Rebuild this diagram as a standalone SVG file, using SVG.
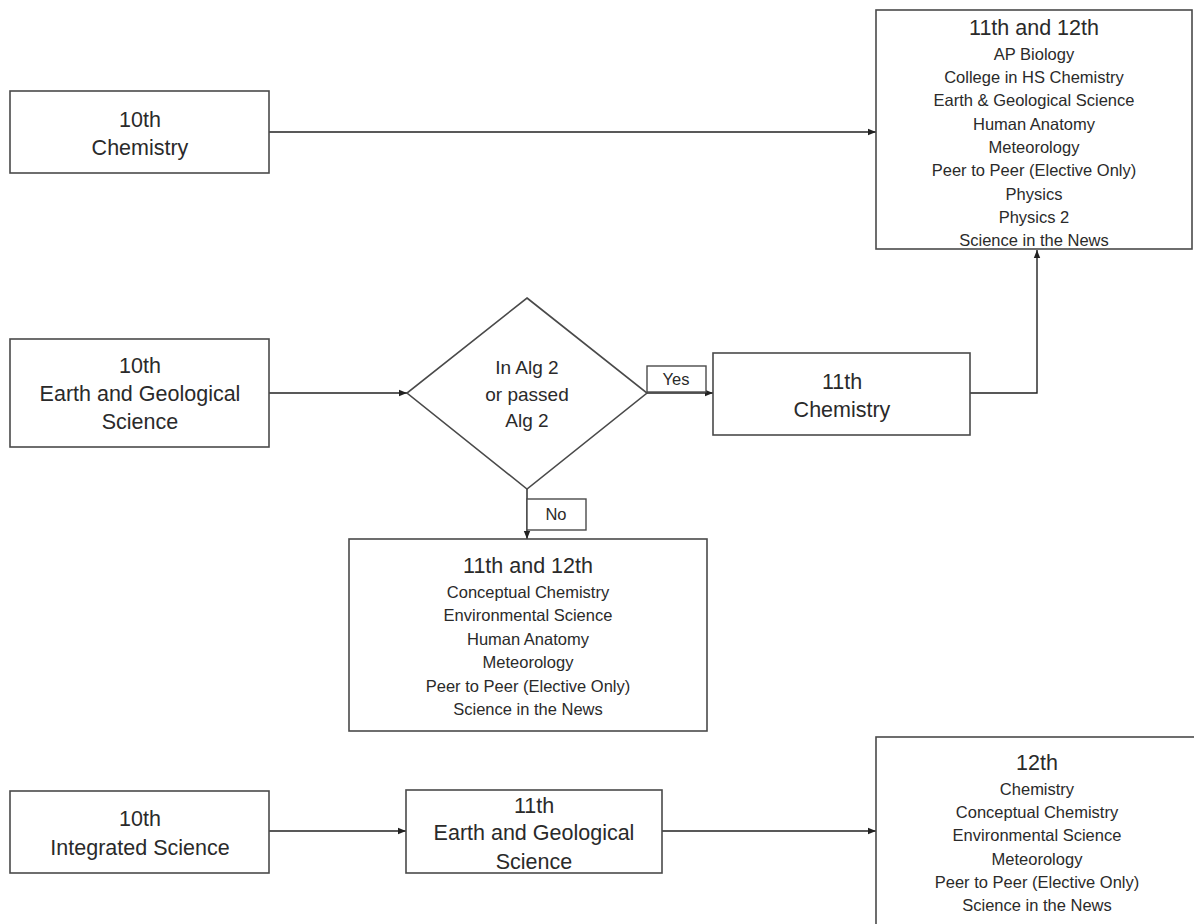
<svg xmlns="http://www.w3.org/2000/svg" width="1194" height="924" viewBox="0 0 1194 924">
<style>
.box{fill:#fff;stroke:#4a4a4a;stroke-width:1.6}
.lbl{fill:#fff;stroke:#4a4a4a;stroke-width:1.4}
.h{font-family:"Liberation Sans",Arial,sans-serif;font-size:21.5px;fill:#2a2a2a;text-anchor:middle}
.b{font-family:"Liberation Sans",Arial,sans-serif;font-size:16.5px;fill:#2a2a2a;text-anchor:middle}
.c{fill:none;stroke:#222;stroke-width:1.4}
</style>
<defs>
<marker id="arr" markerUnits="userSpaceOnUse" markerWidth="9" markerHeight="8" refX="8" refY="4" orient="auto">
<path d="M0,0.8 L8,4 L0,7.2 Z" fill="#222"/>
</marker>
</defs>
<rect width="1194" height="924" fill="#fff"/>

<g id="connectors">
<line class="c" x1="269" y1="132" x2="876" y2="132" marker-end="url(#arr)"/>
<line class="c" x1="269" y1="393" x2="407" y2="393" marker-end="url(#arr)"/>
<line class="c" x1="647" y1="393" x2="713" y2="393" marker-end="url(#arr)"/>
<polyline class="c" points="970,393 1037,393 1037,250" marker-end="url(#arr)"/>
<line class="c" x1="527" y1="489" x2="527" y2="539" marker-end="url(#arr)"/>
<line class="c" x1="269" y1="831" x2="406" y2="831" marker-end="url(#arr)"/>
<line class="c" x1="662" y1="831" x2="876" y2="831" marker-end="url(#arr)"/>
</g>

<g id="n-10-chem">
<rect class="box" x="10" y="91" width="259" height="82"/>
<text class="h" x="140" y="127">10th</text>
<text class="h" x="140" y="155">Chemistry</text>
</g>

<g id="n-1112-top">
<rect class="box" x="876" y="10" width="316" height="239"/>
<text class="h" x="1034" y="35">11th and 12th</text>
<text class="b" x="1034" y="59.8">AP Biology</text>
<text class="b" x="1034" y="83.1">College in HS Chemistry</text>
<text class="b" x="1034" y="106.4">Earth &amp; Geological Science</text>
<text class="b" x="1034" y="129.8">Human Anatomy</text>
<text class="b" x="1034" y="153">Meteorology</text>
<text class="b" x="1034" y="176.3">Peer to Peer (Elective Only)</text>
<text class="b" x="1034" y="199.6">Physics</text>
<text class="b" x="1034" y="222.9">Physics 2</text>
<text class="b" x="1034" y="246.2">Science in the News</text>
</g>

<g id="n-10-earth">
<rect class="box" x="10" y="339" width="259" height="108"/>
<text class="h" x="140" y="373">10th</text>
<text class="h" x="140" y="401">Earth and Geological</text>
<text class="h" x="140" y="429">Science</text>
</g>

<g id="n-decision">
<polygon class="box" points="527,298 647,393 527,489 407,393"/>
<text class="h" x="527" y="374" style="font-size:19px">In Alg 2</text>
<text class="h" x="527" y="401" style="font-size:19px">or passed</text>
<text class="h" x="527" y="427" style="font-size:19px">Alg 2</text>
</g>

<g id="lbl-yes">
<rect class="lbl" x="647" y="366" width="59" height="26"/>
<text class="b" x="676" y="385">Yes</text>
</g>

<g id="n-11-chem">
<rect class="box" x="713" y="353" width="257" height="82"/>
<text class="h" x="842" y="389">11th</text>
<text class="h" x="842" y="417">Chemistry</text>
</g>

<g id="lbl-no">
<rect class="lbl" x="527" y="499" width="59" height="31"/>
<text class="b" x="556" y="520">No</text>
</g>

<g id="n-1112-mid">
<rect class="box" x="349" y="539" width="358" height="192"/>
<text class="h" x="528" y="573">11th and 12th</text>
<text class="b" x="528" y="597.8">Conceptual Chemistry</text>
<text class="b" x="528" y="621.3">Environmental Science</text>
<text class="b" x="528" y="644.8">Human Anatomy</text>
<text class="b" x="528" y="668.3">Meteorology</text>
<text class="b" x="528" y="691.8">Peer to Peer (Elective Only)</text>
<text class="b" x="528" y="715.3">Science in the News</text>
</g>

<g id="n-10-integrated">
<rect class="box" x="10" y="791" width="259" height="82"/>
<text class="h" x="140" y="826">10th</text>
<text class="h" x="140" y="855">Integrated Science</text>
</g>

<g id="n-11-earth">
<rect class="box" x="406" y="790" width="256" height="83"/>
<text class="h" x="534" y="813">11th</text>
<text class="h" x="534" y="840">Earth and Geological</text>
<text class="h" x="534" y="869">Science</text>
</g>

<g id="n-12">
<rect class="box" x="876" y="737" width="340" height="220"/>
<text class="h" x="1037" y="770">12th</text>
<text class="b" x="1037" y="794.8">Chemistry</text>
<text class="b" x="1037" y="818.1">Conceptual Chemistry</text>
<text class="b" x="1037" y="841.4">Environmental Science</text>
<text class="b" x="1037" y="864.8">Meteorology</text>
<text class="b" x="1037" y="888">Peer to Peer (Elective Only)</text>
<text class="b" x="1037" y="911.3">Science in the News</text>
</g>
</svg>
